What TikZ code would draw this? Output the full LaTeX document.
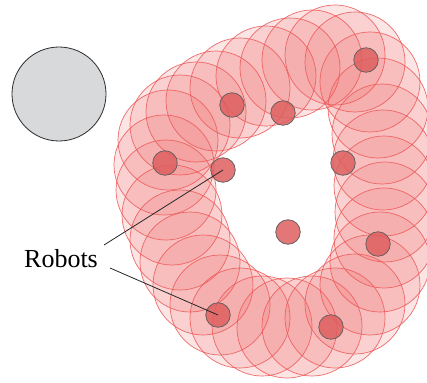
\documentclass[tikz,border=0pt]{standalone}
\usepackage{fontspec}
\setmainfont{Liberation Serif}
\definecolor{zonefill}{RGB}{238,95,95}
\definecolor{zoneline}{RGB}{236,84,84}
\definecolor{robotfill}{RGB}{222,95,95}
\definecolor{robotedge}{RGB}{105,95,95}
\definecolor{obstaclefill}{RGB}{216,217,219}
\definecolor{obstacleedge}{RGB}{45,45,45}
\begin{document}
\begin{tikzpicture}[x=1pt,y=-1pt,
  zone/.style={draw=zoneline, fill=zonefill, fill opacity=0.16, draw opacity=0.85, line width=0.7pt},
  robot/.style={circle, inner sep=0pt, minimum size=24.5pt, fill=robotfill, fill opacity=0.85, draw=robotedge, line width=0.8pt},
  obstacle/.style={circle, inner sep=0pt, minimum size=94pt, fill=obstaclefill, draw=obstacleedge, line width=0.8pt},
  leader/.style={draw=black!85, line width=0.8pt},
  caption/.style={font=\fontsize{26}{30}\selectfont, inner sep=0pt}]
\useasboundingbox (0,0) rectangle (427,382);

% static obstacle
\node[obstacle] (obs) at (59,94) {};

% sensing footprints swept along the closed formation path
\foreach \cx/\cy in {
  168/140, 164/165, 166/190, 172/215, 180/240, 190/262, 203/285, 220/305,
  240/318, 262/326, 287/328, 312/326, 335/318, 355/304, 370/285, 380/262,
  384/238, 385/212, 384/186, 383/160, 382/134, 378/108, 370/82, 355/62,
  335/55, 312/60, 290/68, 266/76, 240/88, 216/101, 196/112, 180/125}
  \draw[zone] (\cx,\cy) circle[radius=50];

% robots
\node[robot] (r1) at (232,105) {};
\node[robot] (r2) at (283,113) {};
\node[robot] (r3) at (366,60) {};
\node[robot] (r4) at (165,163) {};
\node[robot] (r5) at (223,170) {};
\node[robot] (r6) at (343,163) {};
\node[robot] (r7) at (288,232) {};
\node[robot] (r8) at (378,244) {};
\node[robot] (r9) at (218,315) {};
\node[robot] (r10) at (331,327) {};

% label with leader lines
\node[caption, anchor=base] (lbl) at (61,267) {Robots};
\coordinate (lu) at (104,245);
\coordinate (ll) at (110,268);
\draw[leader] (lu) -- (r5.center);
\draw[leader] (ll) -- (r9.center);
\end{tikzpicture}
\end{document}
